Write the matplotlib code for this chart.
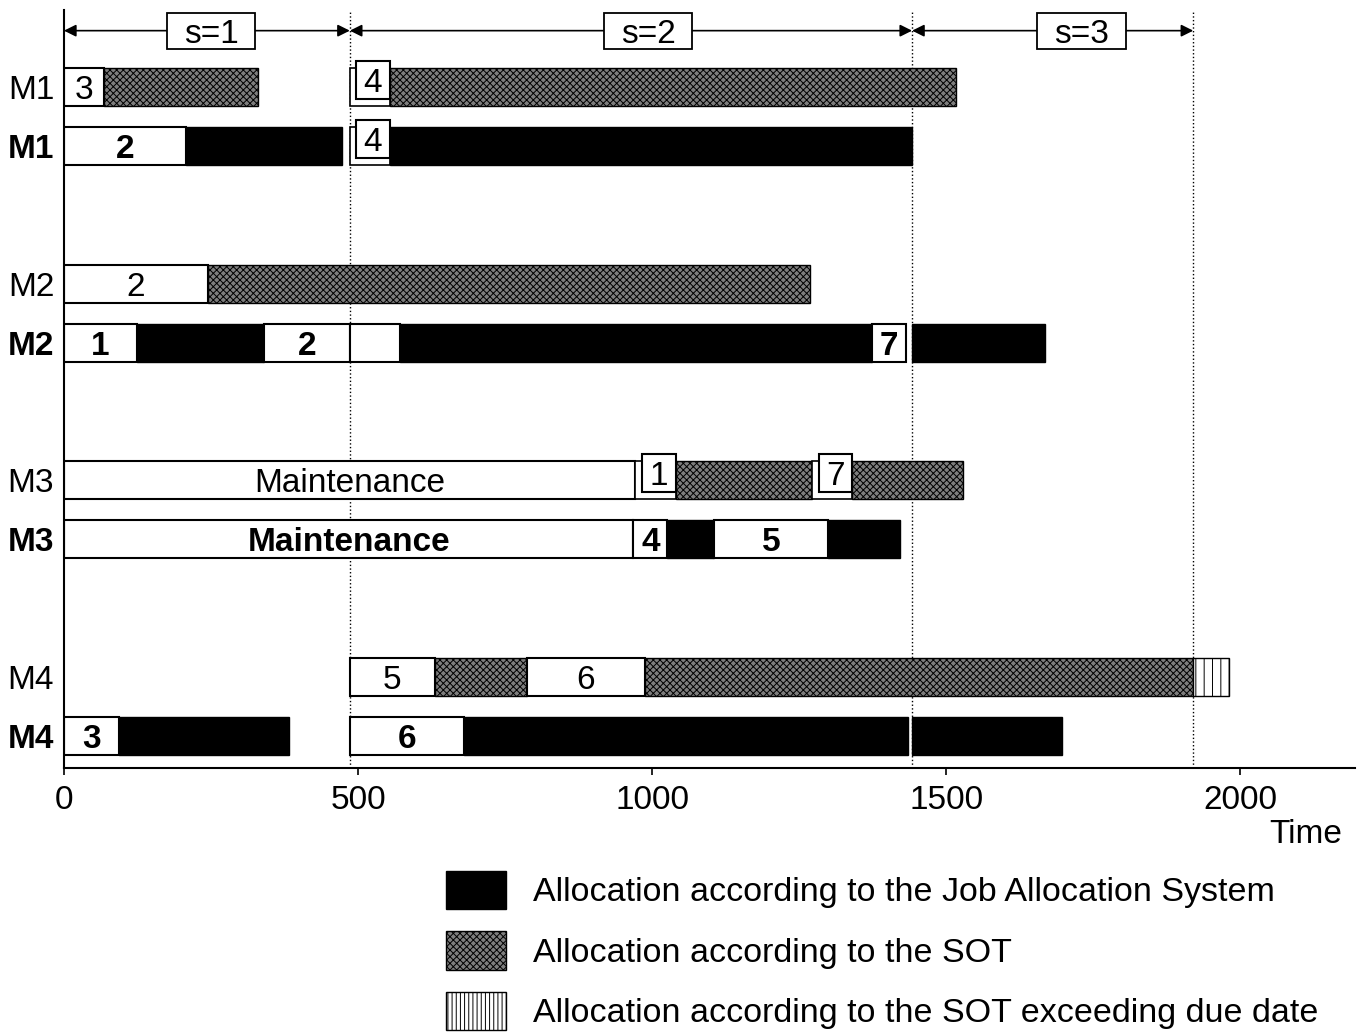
import matplotlib
matplotlib.use('Agg')
import matplotlib.pyplot as plt
from matplotlib.patches import Rectangle, Patch

plt.rcParams['font.family'] = ['Liberation Sans', 'DejaVu Sans']
plt.rcParams['hatch.linewidth'] = 0.7

# machine rows, top to bottom: SOT row then Job Allocation System row
row_names = ['M1', 'M1', 'M2', 'M2', 'M3', 'M3', 'M4', 'M4']
row_bold = [False, True, False, True, False, True, False, True]
row_y = [11.54, 10.54, 8.21, 7.21, 4.88, 3.88, 1.55, 0.55]

# segments: (start, end, kind, label)
# kind: w = white job box, b = JAS, s = SOT, v = SOT exceeding due date, t = raised job tab
m1_sot = [(0, 68, 'w', '3'), (68, 330, 's', ''), (486, 554, 't', '4'), (554, 1517, 's', '')]
m1_jas = [(0, 207, 'w', '2'), (207, 473, 'b', ''), (486, 554, 't', '4'), (554, 1442, 'b', '')]
m2_sot = [(0, 245, 'w', '2'), (245, 1269, 's', '')]
m2_jas = [(0, 124, 'w', '1'), (124, 340, 'b', ''), (340, 486, 'w', '2'), (486, 571, 'w', ''),
          (571, 1374, 'b', ''), (1374, 1432, 'w', '7'), (1442, 1668, 'b', '')]
m3_sot = [(0, 971, 'w', 'Maintenance'), (971, 1041, 't', '1'), (1041, 1272, 's', ''),
          (1272, 1340, 't', '7'), (1340, 1529, 's', '')]
m3_jas = [(0, 968, 'w', 'Maintenance'), (968, 1026, 'w', '4'), (1026, 1105, 'b', ''),
          (1105, 1299, 'w', '5'), (1299, 1422, 'b', '')]
m4_sot = [(486, 631, 'w', '5'), (631, 787, 's', ''), (787, 988, 'w', '6'),
          (988, 1920, 's', ''), (1920, 1981, 'v', '')]
m4_jas = [(0, 94, 'w', '3'), (94, 383, 'b', ''), (486, 680, 'w', '6'),
          (680, 1435, 'b', ''), (1442, 1697, 'b', '')]
rows = [m1_sot, m1_jas, m2_sot, m2_jas, m3_sot, m3_jas, m4_sot, m4_jas]

# stages
stage_names = ['s=1', 's=2', 's=3']
stage_bounds = [0, 486, 1442, 1920]
stage_label_x = [250, 993, 1730]

legend_labels = ['Allocation according to the Job Allocation System',
                 'Allocation according to the SOT',
                 'Allocation according to the SOT exceeding due date']

FS = 24
H = 0.645
SOT_FACE = '#7e7e7e'

fig = plt.figure(figsize=(13.64, 10.32), dpi=100)
ax = fig.add_axes([0.0469, 0.2558, 0.9465, 0.7345])
ax.set_xlim(0, 2195)
ax.set_ylim(0, 12.85)

for xv in stage_bounds[1:]:
    ax.axvline(xv, color='black', linestyle=':', lw=1.0, zorder=1)

for y, segs, bold in zip(row_y, rows, row_bold):
    for start, end, kind, lab in segs:
        w = end - start
        if kind == 'b':
            ax.barh(y, w, left=start, height=H, color='black', edgecolor='black', lw=1, zorder=2)
        elif kind == 's':
            ax.barh(y, w, left=start, height=H, color=SOT_FACE, edgecolor='black',
                    hatch='xxxxx', lw=1, zorder=2)
        elif kind == 'v':
            ax.barh(y, w, left=start, height=H, color='white', edgecolor='black',
                    hatch='||', lw=1, zorder=2)
        elif kind == 'w':
            ax.barh(y, w, left=start, height=H, color='white', edgecolor='black', lw=1.5, zorder=2)
            if lab:
                ax.text(start + w / 2, y, lab, ha='center', va='center_baseline', fontsize=FS,
                        fontweight='bold' if bold else 'normal', zorder=4)
        elif kind == 't':
            ax.barh(y, w, left=start, height=H, color='white', edgecolor='black', lw=1.2, zorder=2)
            bx = start + 0.16 * w
            ax.add_patch(Rectangle((bx, y - H / 2 + 0.12), end - bx, H, facecolor='white',
                                   edgecolor='black', lw=1.5, zorder=3))
            ax.text(bx + (end - bx) / 2, y + 0.12, lab, ha='center', va='center_baseline',
                    fontsize=FS, zorder=4)

# stage arrows on top
arr_y = 12.5
box_w, box_h = 151, 0.61
for i, name in enumerate(stage_names):
    ax.annotate('', xy=(stage_bounds[i + 1], arr_y), xytext=(stage_bounds[i], arr_y),
                arrowprops=dict(arrowstyle='<|-|>', color='black', lw=1.2,
                                mutation_scale=18, shrinkA=0, shrinkB=0),
                annotation_clip=False, zorder=3)
    ax.add_patch(Rectangle((stage_label_x[i] - box_w / 2, arr_y - box_h / 2), box_w, box_h,
                           facecolor='white', edgecolor='black', lw=1.3, zorder=4,
                           clip_on=False))
    ax.text(stage_label_x[i], arr_y, name, ha='center', va='center_baseline', fontsize=FS,
            zorder=5)

ax.set_yticks(row_y)
ax.set_yticklabels(row_names, fontsize=FS)
for t, bold in zip(ax.get_yticklabels(), row_bold):
    if bold:
        t.set_fontweight('bold')
ax.tick_params(axis='y', length=0, pad=7)
ax.set_xticks([0, 500, 1000, 1500, 2000])
ax.tick_params(axis='x', labelsize=FS, length=5, width=1.2, pad=7)

ax.spines['top'].set_visible(False)
ax.spines['right'].set_visible(False)
ax.spines['left'].set_linewidth(1.5)
ax.spines['bottom'].set_linewidth(1.5)

ax.text(0.99, -0.088, 'Time', transform=ax.transAxes, ha='right', va='center', fontsize=FS)

handles = [Patch(facecolor='black', edgecolor='black'),
           Patch(facecolor=SOT_FACE, edgecolor='black', hatch='xxxxx'),
           Patch(facecolor='white', edgecolor='black', hatch='||||')]
fig.legend(handles, legend_labels, loc='upper left', bbox_to_anchor=(446 / 1364, 1 - 871 / 1032),
           bbox_transform=fig.transFigure, frameon=False, fontsize=24.5, borderpad=0,
           borderaxespad=0, handlelength=1.75, handleheight=1.35, handletextpad=0.8,
           labelspacing=0.65)

fig.savefig('out.png', dpi=100)
